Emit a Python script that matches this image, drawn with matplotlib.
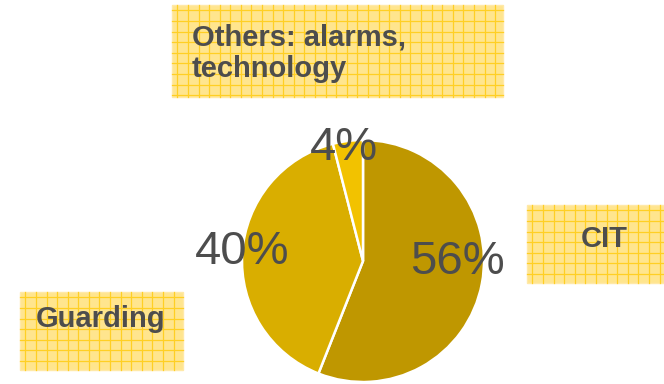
import matplotlib
matplotlib.use("Agg")
import matplotlib.pyplot as plt
from matplotlib.patches import Rectangle
import numpy as np

categories = ["CIT", "Guarding", "Others: alarms,\ntechnology"]
shares = [56, 40, 4]
pct_labels = ["56%", "40%", "4%"]
colors = ["#BF9700", "#D9AE00", "#F2C200"]

W, H = 664, 384
fig = plt.figure(figsize=(W / 100, H / 100), dpi=100)
ax = fig.add_axes([0, 0, 1, 1])

def Y(y):
    return H - y

# pie
cx, cy, r = 363, 261, 121
wedges, _ = ax.pie(shares, colors=colors, startangle=90, counterclock=False,
                   center=(cx, Y(cy)), radius=r, frame=True,
                   wedgeprops=dict(edgecolor="white", linewidth=1.8))
ax.set_xlim(0, W)
ax.set_ylim(0, H)
ax.set_aspect("equal")
ax.axis("off")

# percentage labels
pct_pos = [(457, 262), (242, 252), (344, 148)]
for lab, (x, y) in zip(pct_labels, pct_pos):
    ax.text(x, Y(y), lab, ha="center", va="center", fontsize=34,
            family="Liberation Sans", color="#4D4D4D")

# label boxes (x0, y0, x1, y1 in pixel coords from top)
boxes = [(527, 205, 664, 283), (20, 292, 183, 370), (172, 5, 503, 97)]
fill = "#FFE58E"
grid = "#FFCF24"
step = 10.6
for (x0, y0, x1, y1) in boxes:
    ax.add_patch(Rectangle((x0, Y(y1)), x1 - x0, y1 - y0, facecolor=fill,
                           edgecolor="#FFE9A8", linewidth=1, zorder=3))
    for gx in np.arange(x0 + step / 2, x1, step):
        ax.plot([gx, gx], [Y(y1), Y(y0)], color=grid, lw=0.9, zorder=4)
    for gy in np.arange(y0 + step / 2, y1, step):
        ax.plot([x0, x1], [Y(gy), Y(gy)], color=grid, lw=0.9, zorder=4)

# box texts
txt = dict(fontsize=21, family="Liberation Sans", weight="bold",
           color="#4D4D4D", zorder=5)
ax.text(604, Y(239), categories[0], ha="center", va="center", **txt)
ax.text(101, Y(319), categories[1], ha="center", va="center", **txt)
line1, line2 = categories[2].split("\n")
ax.text(192, Y(45), line1, ha="left", va="baseline", **txt)
ax.text(192, Y(77), line2, ha="left", va="baseline", **txt)

fig.savefig("out.png", dpi=100)
